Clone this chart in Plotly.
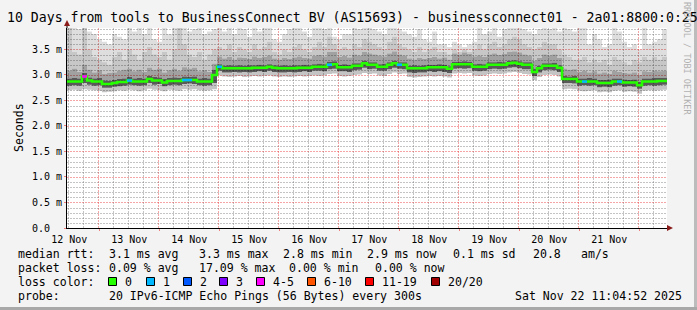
import pandas as pd
import plotly.graph_objects as go

# ---------------- data ----------------
start_time = "2025-11-12 11:04:52"
end_time = "2025-11-22 11:04:52"
step_hours = 2

# median RTT in ms, one value per 2-hour step
median_ms = [
    2.87, 2.87, 2.87, 2.97, 2.89, 2.87, 2.87, 2.82, 2.82, 2.84,
    2.86, 2.86, 2.89, 2.87, 2.87, 2.87, 2.92, 2.89, 2.89, 2.85,
    2.88, 2.88, 2.88, 2.90, 2.90, 2.90, 2.87, 2.87, 2.87, 3.00,
    3.16, 3.13, 3.13, 3.13, 3.13, 3.13, 3.13, 3.14, 3.14, 3.14,
    3.16, 3.14, 3.13, 3.13, 3.13, 3.13, 3.14, 3.14, 3.14, 3.16,
    3.16, 3.16, 3.20, 3.21, 3.15, 3.15, 3.15, 3.18, 3.18, 3.23,
    3.20, 3.20, 3.16, 3.16, 3.20, 3.23, 3.20, 3.20, 3.13, 3.13,
    3.13, 3.13, 3.15, 3.15, 3.15, 3.15, 3.12, 3.21, 3.21, 3.21,
    3.21, 3.16, 3.16, 3.16, 3.20, 3.20, 3.20, 3.20, 3.23, 3.24,
    3.22, 3.20, 3.20, 3.06, 3.13, 3.18, 3.18, 3.18, 3.14, 2.92,
    2.92, 2.92, 2.87, 2.87, 2.87, 2.87, 2.84, 2.84, 2.84, 2.87,
    2.87, 2.85, 2.85, 2.85, 2.80, 2.87, 2.87, 2.87, 2.88, 2.88,
]

# lost pings (of 20) per step
lost_pings = [
    0, 0, 0, 4, 0, 0, 0, 0, 0, 0,
    0, 0, 1, 0, 0, 0, 0, 0, 0, 0,
    0, 0, 0, 1, 1, 0, 0, 0, 0, 0,
    1, 0, 0, 0, 0, 0, 0, 0, 0, 0,
    0, 0, 0, 0, 0, 0, 0, 0, 0, 0,
    0, 0, 1, 0, 0, 0, 0, 0, 0, 0,
    0, 0, 0, 0, 0, 0, 1, 0, 0, 0,
    0, 0, 0, 0, 0, 0, 0, 0, 0, 0,
    0, 0, 0, 0, 0, 0, 0, 0, 0, 0,
    0, 0, 0, 0, 0, 0, 0, 0, 0, 0,
    0, 0, 0, 1, 0, 0, 0, 0, 0, 0,
    1, 0, 0, 0, 0, 0, 0, 0, 0, 0,
]

# smoke levels (ms)
rtt_min = [
    2.70, 2.71, 2.69, 2.72, 2.71, 2.70, 2.69, 2.66, 2.67, 2.68,
    2.70, 2.69, 2.71, 2.70, 2.68, 2.70, 2.73, 2.71, 2.70, 2.68,
    2.71, 2.70, 2.69, 2.72, 2.71, 2.72, 2.70, 2.69, 2.70, 2.72,
    2.99, 2.97, 2.96, 2.97, 2.98, 2.96, 2.97, 2.98, 2.97, 2.98,
    2.99, 2.97, 2.96, 2.97, 2.96, 2.97, 2.98, 2.97, 2.98, 2.99,
    2.98, 2.99, 3.02, 3.03, 2.98, 2.97, 2.98, 3.00, 3.01, 3.04,
    3.02, 3.03, 2.99, 2.98, 3.02, 3.05, 3.02, 3.03, 2.96, 2.95,
    2.96, 2.97, 2.98, 2.97, 2.98, 2.97, 2.95, 3.03, 3.04, 3.03,
    3.04, 2.99, 2.98, 2.99, 3.02, 3.03, 3.02, 3.03, 3.05, 3.06,
    3.04, 3.02, 3.01, 2.90, 2.96, 3.00, 3.01, 3.00, 2.97, 2.72,
    2.73, 2.72, 2.69, 2.68, 2.69, 2.70, 2.66, 2.67, 2.66, 2.69,
    2.70, 2.67, 2.68, 2.67, 2.63, 2.69, 2.70, 2.69, 2.70, 2.71,
]
rtt_lo = [
    2.79, 2.80, 2.79, 2.84, 2.81, 2.79, 2.80, 2.75, 2.75, 2.77,
    2.78, 2.79, 2.81, 2.80, 2.79, 2.80, 2.84, 2.81, 2.82, 2.78,
    2.80, 2.81, 2.80, 2.82, 2.83, 2.82, 2.80, 2.79, 2.80, 2.84,
    3.08, 3.05, 3.05, 3.06, 3.05, 3.06, 3.05, 3.06, 3.07, 3.06,
    3.08, 3.06, 3.05, 3.05, 3.06, 3.05, 3.06, 3.07, 3.06, 3.08,
    3.08, 3.07, 3.11, 3.12, 3.07, 3.07, 3.06, 3.09, 3.10, 3.14,
    3.11, 3.12, 3.08, 3.08, 3.11, 3.14, 3.12, 3.11, 3.05, 3.04,
    3.05, 3.05, 3.07, 3.06, 3.07, 3.06, 3.04, 3.12, 3.13, 3.12,
    3.13, 3.08, 3.07, 3.08, 3.11, 3.12, 3.11, 3.12, 3.14, 3.15,
    3.13, 3.11, 3.11, 2.98, 3.05, 3.09, 3.10, 3.09, 3.06, 2.84,
    2.84, 2.83, 2.79, 2.80, 2.79, 2.80, 2.76, 2.77, 2.76, 2.79,
    2.80, 2.77, 2.78, 2.77, 2.73, 2.79, 2.80, 2.79, 2.80, 2.81,
]
rtt_hi = [
    2.93, 2.94, 2.93, 3.04, 2.95, 2.93, 2.94, 2.89, 2.88, 2.90,
    2.92, 2.93, 2.96, 2.93, 2.94, 2.93, 2.98, 2.96, 2.95, 2.92,
    2.94, 2.95, 2.94, 2.97, 2.96, 2.97, 2.93, 2.94, 2.93, 3.10,
    3.21, 3.18, 3.19, 3.18, 3.19, 3.18, 3.19, 3.19, 3.20, 3.19,
    3.21, 3.19, 3.18, 3.19, 3.18, 3.19, 3.19, 3.20, 3.19, 3.21,
    3.22, 3.21, 3.26, 3.27, 3.20, 3.21, 3.20, 3.23, 3.23, 3.28,
    3.25, 3.25, 3.21, 3.22, 3.25, 3.28, 3.25, 3.25, 3.18, 3.19,
    3.18, 3.19, 3.20, 3.20, 3.21, 3.20, 3.17, 3.26, 3.26, 3.27,
    3.26, 3.21, 3.22, 3.21, 3.25, 3.25, 3.26, 3.25, 3.28, 3.29,
    3.27, 3.25, 3.25, 3.12, 3.18, 3.23, 3.23, 3.24, 3.19, 2.98,
    2.97, 2.98, 2.93, 2.93, 2.94, 2.93, 2.90, 2.90, 2.91, 2.93,
    2.93, 2.91, 2.90, 2.91, 2.86, 2.93, 2.93, 2.94, 2.94, 2.94,
]
rtt_up = [
    3.08, 3.12, 3.06, 3.20, 3.10, 3.05, 3.09, 3.02, 3.04, 3.05,
    3.08, 3.10, 3.12, 3.07, 3.10, 3.06, 3.14, 3.10, 3.12, 3.05,
    3.09, 3.12, 3.08, 3.15, 3.12, 3.14, 3.07, 3.09, 3.06, 3.22,
    3.36, 3.32, 3.35, 3.30, 3.34, 3.33, 3.31, 3.36, 3.33, 3.35,
    3.38, 3.32, 3.30, 3.33, 3.31, 3.34, 3.36, 3.33, 3.32, 3.37,
    3.39, 3.36, 3.45, 3.45, 3.35, 3.37, 3.34, 3.40, 3.38, 3.45,
    3.42, 3.40, 3.38, 3.36, 3.42, 3.46, 3.40, 3.38, 3.32, 3.30,
    3.33, 3.31, 3.33, 3.35, 3.32, 3.34, 3.30, 3.42, 3.40, 3.44,
    3.41, 3.36, 3.38, 3.35, 3.40, 3.42, 3.39, 3.41, 3.45, 3.46,
    3.44, 3.40, 3.38, 3.28, 3.33, 3.40, 3.38, 3.40, 3.33, 3.12,
    3.10, 3.11, 3.06, 3.08, 3.05, 3.07, 3.03, 3.05, 3.02, 3.08,
    3.06, 3.04, 3.03, 3.05, 3.00, 3.07, 3.06, 3.08, 3.07, 3.08,
]
rtt_p90 = [
    3.95, 3.45, 3.40, 3.95, 3.50, 3.35, 3.30, 3.25, 3.20, 3.35,
    3.45, 3.30, 3.50, 3.40, 3.30, 3.45, 3.55, 3.40, 3.35, 3.45,
    3.30, 3.50, 3.95, 3.60, 3.40, 3.35, 3.45, 3.30, 3.40, 3.50,
    3.55, 3.50, 3.60, 3.45, 3.55, 3.50, 3.45, 3.60, 3.50, 3.55,
    3.65, 3.45, 3.40, 3.50, 3.45, 3.55, 3.60, 3.50, 3.45, 3.55,
    3.65, 3.55, 3.75, 3.60, 3.50, 3.55, 3.50, 3.60, 3.55, 3.70,
    3.65, 3.60, 3.55, 3.50, 3.65, 3.75, 3.60, 3.55, 3.50, 3.45,
    3.55, 3.45, 3.50, 3.55, 3.45, 3.45, 3.40, 3.50, 3.45, 3.50,
    3.45, 3.50, 3.60, 3.50, 3.60, 3.65, 3.55, 3.60, 3.70, 3.75,
    3.70, 3.60, 3.55, 3.50, 3.55, 3.65, 3.60, 3.60, 3.50, 3.40,
    3.35, 3.30, 3.30, 3.35, 3.25, 3.30, 3.25, 3.30, 3.20, 3.35,
    3.30, 3.25, 3.20, 3.30, 3.25, 3.35, 3.30, 3.35, 3.30, 3.35,
]
rtt_max = [
    3.95, 3.95, 3.90, 3.95, 3.85, 3.80, 3.70, 3.65, 3.60, 3.80,
    3.75, 3.70, 3.95, 3.85, 3.95, 3.80, 3.95, 3.70, 3.65, 3.95,
    3.80, 3.95, 3.95, 3.95, 3.85, 3.90, 3.95, 3.80, 3.85, 3.90,
    3.95, 3.85, 3.95, 3.80, 3.95, 3.90, 3.75, 3.95, 3.85, 3.95,
    3.95, 3.70, 3.65, 3.80, 3.90, 3.95, 3.95, 3.85, 3.75, 3.95,
    3.95, 3.90, 3.95, 3.75, 3.70, 3.80, 3.80, 3.95, 3.90, 3.95,
    3.95, 3.90, 3.85, 3.80, 3.95, 3.95, 3.90, 3.85, 3.80, 3.75,
    3.90, 3.70, 3.65, 3.85, 3.60, 3.60, 3.55, 3.65, 3.60, 3.55,
    3.60, 3.65, 3.95, 3.80, 3.85, 3.95, 3.75, 3.90, 3.95, 3.95,
    3.95, 3.90, 3.85, 3.80, 3.90, 3.95, 3.90, 3.95, 3.85, 3.95,
    3.90, 3.85, 3.95, 3.95, 3.60, 3.80, 3.70, 3.55, 3.60, 3.95,
    3.85, 3.65, 3.55, 3.60, 3.50, 3.95, 3.60, 3.65, 3.70, 3.90,
]

y_tick_values = [0.0, 0.5, 1.0, 1.5, 2.0, 2.5, 3.0, 3.5]
y_tick_labels = ["0.0\u00a0\u00a0", "0.5 m", "1.0 m", "1.5 m", "2.0 m", "2.5 m", "3.0 m", "3.5 m"]

loss_labels = ["0", "1", "2", "3", "4-5", "6-10", "11-19", "20/20"]
loss_colors = ["#26ff00", "#00b8ff", "#0059ff", "#7e00ff", "#ff00ff", "#ff5500", "#ff0000", "#a10000"]
loss_upper = [0, 1, 2, 3, 5, 10, 19, 20]

title_text = "10 Days from tools to BusinessConnect BV (AS15693) - businessconnect01 - 2a01:8800:0:25"
stats_rtt = ["median rtt:", "3.1 ms avg", "3.3 ms max", "2.8 ms min", "2.9 ms now", "0.1 ms sd", "20.8", "am/s"]
stats_loss = ["packet loss:", "0.09 % avg", "17.09 % max", "0.00 % min", "0.00 % now"]
probe_text = ["probe:", "20 IPv6-ICMP Echo Pings (56 Bytes) every 300s", "Sat Nov 22 11:04:52 2025"]

# ---------------- figure ----------------
W, H = 697, 310
PL, PR, PT, PB = 67, 667, 28, 228  # plot area in pixels
MONO = "DejaVu Sans Mono"
Y_RANGE = [0, 3.92]


def px(x):
    return (x - PL) / (PR - PL)


def py(y):
    return (PB - y) / (PB - PT)


t0 = pd.Timestamp(start_time)
t_end = pd.Timestamp(end_time)
n = len(median_ms)
edges = [t0 + pd.Timedelta(hours=step_hours * i) for i in range(n + 1)]


def stepped(vals):
    return list(vals) + [vals[-1]]


fig = go.Figure()

# translucent smoke so the grid (drawn below the traces) shows through it
bands = [
    (rtt_min, None),
    (rtt_lo, "rgba(0,0,0,0.23)"),
    (rtt_hi, "rgba(0,0,0,0.65)"),
    (rtt_up, "rgba(0,0,0,0.37)"),
    (rtt_p90, "rgba(0,0,0,0.22)"),
    (rtt_max, "rgba(0,0,0,0.13)"),
]
for vals, col in bands:
    fig.add_trace(go.Scatter(
        x=edges, y=stepped(vals), mode="lines",
        line=dict(width=0, shape="hv"),
        fill="tonexty" if col else None,
        fillcolor=col, hoverinfo="skip",
    ))

fig.add_trace(go.Scatter(
    x=edges, y=stepped(median_ms), mode="lines",
    line=dict(width=2.5, shape="hv", color=loss_colors[0]), hoverinfo="skip",
))


def loss_class(k):
    for ci, up in enumerate(loss_upper):
        if k <= up:
            return ci
    return len(loss_upper) - 1


for ci in range(1, len(loss_colors)):
    xs, ys = [], []
    for i, k in enumerate(lost_pings):
        if k > 0 and loss_class(k) == ci:
            xs += [edges[i], edges[i + 1], None]
            ys += [median_ms[i], median_ms[i], None]
    if xs:
        fig.add_trace(go.Scatter(x=xs, y=ys, mode="lines",
                                 line=dict(width=2.5, color=loss_colors[ci]),
                                 hoverinfo="skip"))

fig.update_layout(
    width=W, height=H,
    margin=dict(l=PL, r=W - PR, t=PT, b=H - PB, pad=0),
    paper_bgcolor="#f3f3f3", plot_bgcolor="#ffffff",
    showlegend=False,
    font=dict(family=MONO, size=10, color="#000000"),
    xaxis=dict(
        type="date", range=[start_time, end_time],
        tick0="2025-11-12", dtick=86400000, ticklabelmode="period",
        tickformat="%d %b", showgrid=False, zeroline=False,
        showline=True, linecolor="#000000", linewidth=1,
        ticks="outside", ticklen=2, tickcolor="#f08080",
        tickfont=dict(family=MONO, size=10, color="#000000"),
        fixedrange=True,
    ),
    yaxis=dict(
        range=Y_RANGE, tickmode="array", tickvals=y_tick_values, ticktext=y_tick_labels,
        showgrid=False, zeroline=False, showline=True, linecolor="#000000", linewidth=1,
        ticks="outside", ticklen=2, tickcolor="#f08080",
        tickfont=dict(family=MONO, size=10, color="#000000"),
        fixedrange=True,
    ),
)

# ---- grid, snapped to whole pixels ----
red_grid = "rgba(232,40,40,0.42)"
grey_grid = "rgba(100,100,100,0.38)"
DASH = "2px,1px"
shapes = []
span = (t_end - t0).total_seconds()


def grid_x_paper(t):
    xpix = PL + (t - t0).total_seconds() / span * (PR - PL)
    return px(round(xpix) - 0.5)


def grid_y_paper(v):
    ypix = PB - (v - Y_RANGE[0]) / (Y_RANGE[1] - Y_RANGE[0]) * (PB - PT)
    return py(round(ypix) + 0.5)


for t in pd.date_range("2025-11-12 00:00", t_end, freq="6h"):
    if t <= t0 or t >= t_end:
        continue
    col = red_grid if t.hour == 0 else grey_grid
    xp = grid_x_paper(t)
    shapes.append(dict(type="line", xref="paper", yref="paper", x0=xp, x1=xp, y0=0, y1=1,
                       layer="below", line=dict(color=col, width=1, dash=DASH)))
for k in range(1, 40):
    v = round(0.1 * k, 1)
    col = red_grid if k % 5 == 0 else grey_grid
    yp = grid_y_paper(v)
    shapes.append(dict(type="line", xref="paper", yref="paper", x0=0, x1=1, y0=yp, y1=yp,
                       layer="below", line=dict(color=col, width=1, dash=DASH)))

ann = []


def text(s, x, y, size=11.56, anchor="left", color="#000000", angle=0):
    ann.append(dict(text=s, x=px(x), y=py(y), xref="paper", yref="paper",
                    xanchor=anchor, yanchor="middle", showarrow=False,
                    textangle=angle, font=dict(family=MONO, size=size, color=color)))


text(title_text, 5, 18, size=13.2)
text("Seconds", 10, 128, angle=-90)
text("RRDTOOL / TOBI OETIKER", 687, 58, size=8.5, color="#b0b0b0", angle=90, anchor="center")

rtt_x = [16, 107, 197, 281, 365, 451, 531, 579]
for s, x in zip(stats_rtt, rtt_x):
    text(s, x, 254)
loss_x = [16, 107, 197, 287, 373]
for s, x in zip(stats_loss, loss_x):
    text(s, x, 268)
text("loss color:", 16, 282)
box_x = [108, 146, 183, 219, 256, 307, 365, 431]
for lab, col, bx in zip(loss_labels, loss_colors, box_x):
    shapes.append(dict(type="rect", xref="paper", yref="paper",
                       x0=px(bx + 0.5), x1=px(bx + 8.5), y0=py(285.5), y1=py(277.5),
                       fillcolor=col, line=dict(color="#000000", width=1)))
    text(lab, bx + 15, 282)
probe_x = [16, 107, 513]
for s, x in zip(probe_text, probe_x):
    text(s, x, 296)

# axis arrows and extensions
arrow_col = "#8b1c1c"
shapes.append(dict(type="line", xref="paper", yref="paper", x0=px(67), x1=px(67),
                   y0=py(28), y1=py(23), line=dict(color="#000000", width=1)))
shapes.append(dict(type="path", xref="paper", yref="paper",
                   path=f"M {px(64)} {py(26)} L {px(67)} {py(20)} L {px(70)} {py(26)} Z",
                   fillcolor=arrow_col, line=dict(width=0)))
shapes.append(dict(type="path", xref="paper", yref="paper",
                   path=f"M {px(667)} {py(225)} L {px(673)} {py(228)} L {px(667)} {py(231)} Z",
                   fillcolor=arrow_col, line=dict(width=0)))
# frame shading (right / bottom)
shapes.append(dict(type="rect", xref="paper", yref="paper", x0=px(694), x1=px(698),
                   y0=py(311), y1=py(-1), fillcolor="#bcbcbc", line=dict(width=0)))
shapes.append(dict(type="rect", xref="paper", yref="paper", x0=px(-1), x1=px(698),
                   y0=py(311), y1=py(307), fillcolor="#a8a8a8", line=dict(width=0)))

fig.update_layout(annotations=ann, shapes=shapes)

fig.write_html("out.html", include_plotlyjs=True, config={"displayModeBar": False})
